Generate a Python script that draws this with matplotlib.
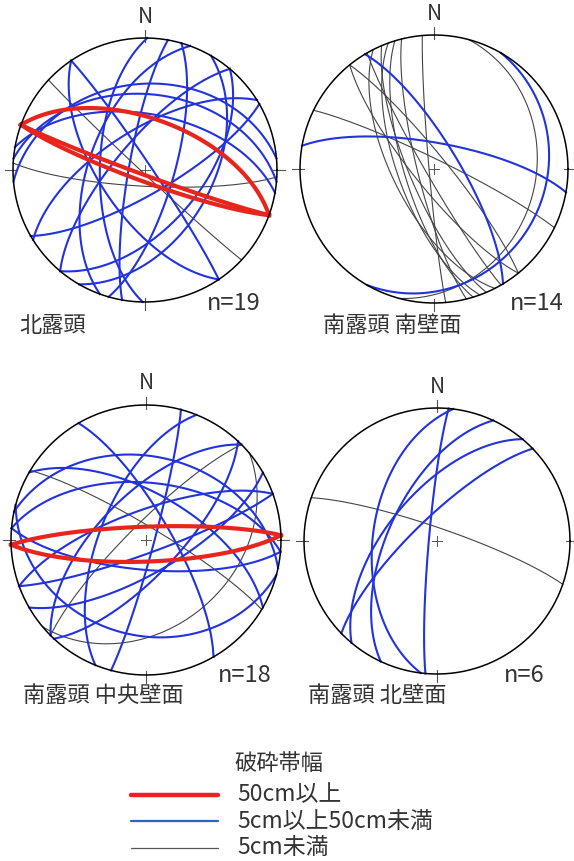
import numpy as np
import matplotlib
matplotlib.use("Agg")
import matplotlib.pyplot as plt

plt.rcParams['font.family'] = ['Noto Sans CJK JP', 'DejaVu Sans']

# planes as (strike, dip), right-hand rule: dip direction = strike + 90
# 北露頭
p1_red = [(290, 58), (110, 87), (110, 83)]
p1_blue = [(181, 62), (190, 80), (16, 72), (40, 55), (220, 72), (238, 65), (265, 35),
           (275, 42), (280, 55), (326, 86), (146, 62), (30, 48), (200, 55), (60, 75)]
p1_gray = [(133, 88), (93, 80)]

# 南露頭 南壁面
p2_red = []
p2_blue = [(329, 75), (280, 74), (30, 18)]
p2_gray = [(175, 87), (163, 72), (160, 68), (157, 75), (153, 65), (166, 80), (150, 85),
           (321, 82), (296, 84), (15, 25), (141, 78)]

# 南露頭 中央壁面
p3_red = [(268, 82), (88, 77)]
p3_blue = [(15, 85), (202, 62), (43, 70), (225, 62), (275, 55), (282, 38), (95, 72),
           (105, 30), (250, 72), (300, 62), (60, 70), (70, 82), (330, 75)]
p3_gray = [(301, 82), (225, 80), (50, 35)]

# 南露頭 北壁面
p4_red = []
p4_blue = [(185, 85), (187, 50), (205, 60), (220, 60), (226, 76)]
p4_gray = [(289, 82)]

titles = ["北露頭", "南露頭 南壁面", "南露頭 中央壁面", "南露頭 北壁面"]
counts = ["n=19", "n=14", "n=18", "n=6"]

legend_title = "破砕帯幅"
legend_labels = ["50cm以上", "5cm以上50cm未満", "5cm未満"]

RED = "#e8251c"
BLUE = "#2233dd"
GRAY = "#444444"
TXT = "#333333"

W, H = 574, 861
fig = plt.figure(figsize=(W / 100, H / 100), dpi=100)


def great_circle(strike, dip, n=200):
    s = np.radians(strike)
    dd = s + np.pi / 2
    d = np.radians(dip)
    t = np.linspace(0, np.pi, n)
    sv = np.array([np.sin(s), np.cos(s), 0.0])
    dv = np.array([np.sin(dd) * np.cos(d), np.cos(dd) * np.cos(d), -np.sin(d)])
    v = np.outer(np.cos(t), sv) + np.outer(np.sin(t), dv)
    plunge = np.arcsin(np.clip(-v[:, 2], -1, 1))
    trend = np.arctan2(v[:, 0], v[:, 1])
    r = np.sqrt(2) * np.sin((np.pi / 2 - plunge) / 2)
    return r * np.sin(trend), r * np.cos(trend)


def stereonet(cx, cy, R, red, blue, gray, title, count, title_xy, count_xy):
    ax = fig.add_axes([(cx - R) / W, (H - cy - R) / H, 2 * R / W, 2 * R / H])
    ax.set_xlim(-1, 1)
    ax.set_ylim(-1, 1)
    ax.axis('off')
    th = np.linspace(0, 2 * np.pi, 400)
    ax.plot(np.cos(th), np.sin(th), color='black', lw=1.1, clip_on=False, zorder=5)
    for a in range(4):
        ang = np.radians(a * 90)
        ax.plot([0.97 * np.sin(ang), 1.06 * np.sin(ang)],
                [0.97 * np.cos(ang), 1.06 * np.cos(ang)],
                color='#555555', lw=0.8, clip_on=False)
    ax.plot([-0.04, 0.04], [0, 0], color='#555555', lw=0.7)
    ax.plot([0, 0], [-0.04, 0.04], color='#555555', lw=0.7)
    for st, dp in gray:
        x, y = great_circle(st, dp)
        ax.plot(x, y, color=GRAY, lw=0.8, clip_on=False)
    for st, dp in blue:
        x, y = great_circle(st, dp)
        ax.plot(x, y, color=BLUE, lw=1.5, clip_on=False)
    for st, dp in red:
        x, y = great_circle(st, dp)
        ax.plot(x, y, color=RED, lw=3.0, clip_on=False)
    ax.text(0, 1.16, "N", ha='center', va='center', fontsize=15, color=TXT)
    fig.text(count_xy[0] / W, 1 - count_xy[1] / H, count, ha='right', va='center',
             fontsize=17, color=TXT)
    fig.text(title_xy[0] / W, 1 - title_xy[1] / H, title, ha='left', va='center',
             fontsize=16, color=TXT)


stereonet(145, 170, 132, p1_red, p1_blue, p1_gray, titles[0], counts[0], (19, 325), (261, 304))
stereonet(434, 169, 134, p2_red, p2_blue, p2_gray, titles[1], counts[1], (323, 325), (564, 303))
stereonet(146, 540, 135, p3_red, p3_blue, p3_gray, titles[2], counts[2], (23, 695), (272, 676))
stereonet(437, 541, 133, p4_red, p4_blue, p4_gray, titles[3], counts[3], (308, 695), (545, 675))

# legend
fig.text(234 / W, 1 - 764 / H, legend_title, ha='left', va='center', fontsize=16, color=TXT)
leg_colors = [RED, "#2b62c4", "#555555"]
leg_widths = [3.2, 1.6, 0.9]
leg_y = [795, 821, 848]
for lab, c, lw, yy in zip(legend_labels, leg_colors, leg_widths, leg_y):
    fig.add_artist(plt.Line2D([131 / W, 218 / W], [1 - yy / H, 1 - yy / H], color=c, lw=lw,
                              solid_capstyle='round'))
    fig.text(237 / W, 1 - yy / H, lab, ha='left', va='center', fontsize=16.5, color=TXT)

fig.savefig("out.png", dpi=100, facecolor='white')
